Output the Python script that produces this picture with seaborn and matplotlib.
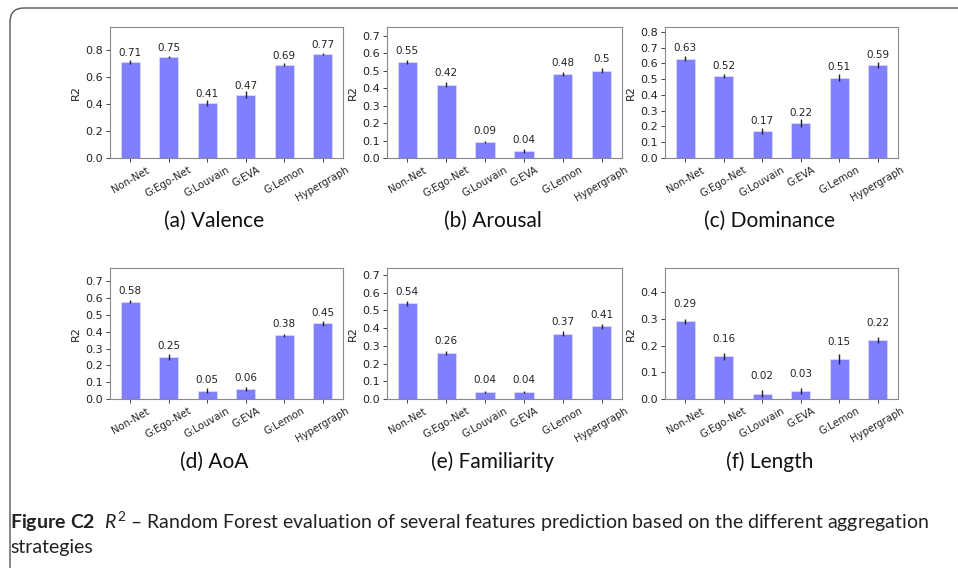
import numpy as np
import pandas as pd
import matplotlib
matplotlib.use("Agg")
import matplotlib.pyplot as plt
import seaborn as sns
from matplotlib.patches import FancyBboxPatch
from matplotlib.transforms import IdentityTransform
from matplotlib.ticker import MultipleLocator

methods = ["Non-Net", "G:Ego-Net", "G:Louvain", "G:EVA", "G:Lemon", "Hypergraph"]

valence = [0.71, 0.75, 0.41, 0.47, 0.69, 0.77]
valence_err = [0.012, 0.008, 0.022, 0.028, 0.01, 0.01]
arousal = [0.55, 0.42, 0.09, 0.04, 0.48, 0.5]
arousal_err = [0.01, 0.013, 0.005, 0.012, 0.012, 0.015]
dominance = [0.63, 0.52, 0.17, 0.22, 0.51, 0.59]
dominance_err = [0.015, 0.015, 0.02, 0.025, 0.02, 0.018]
aoa = [0.58, 0.25, 0.05, 0.06, 0.38, 0.45]
aoa_err = [0.01, 0.015, 0.015, 0.01, 0.01, 0.015]
familiarity = [0.54, 0.26, 0.04, 0.04, 0.37, 0.41]
familiarity_err = [0.015, 0.01, 0.008, 0.006, 0.015, 0.015]
length = [0.29, 0.16, 0.02, 0.03, 0.15, 0.22]
length_err = [0.01, 0.013, 0.013, 0.01, 0.02, 0.012]

panel_titles = ["(a) Valence", "(b) Arousal", "(c) Dominance",
                "(d) AoA", "(e) Familiarity", "(f) Length"]
panel_values = [valence, arousal, dominance, aoa, familiarity, length]
panel_errors = [valence_err, arousal_err, dominance_err, aoa_err, familiarity_err, length_err]
ytick_steps = [0.2, 0.1, 0.1, 0.1, 0.1, 0.1]

caption_line1 = r"$\mathbf{Figure\ C2}$  $\mathit{R}^{2}$ – Random Forest evaluation of several features prediction based on the different aggregation"
caption_line2 = "strategies"

sns.set_theme(style="white")
plt.rcParams["font.family"] = ["DejaVu Sans"]
plt.rcParams["mathtext.fontset"] = "custom"
plt.rcParams["mathtext.rm"] = "Lato"
plt.rcParams["mathtext.it"] = "Lato:italic"
plt.rcParams["mathtext.bf"] = "Lato:bold"

W, H = 958, 568
fig = plt.figure(figsize=(W / 100, H / 100), dpi=100)
fig.patch.set_facecolor("white")

# outer rounded frame
frame = FancyBboxPatch((10, -200), 1200, H - 8 + 200,
                       boxstyle="round,pad=0,rounding_size=14",
                       transform=IdentityTransform(), facecolor="none",
                       edgecolor="#555555", linewidth=1.0, clip_on=False)
fig.add_artist(frame)

lefts = [110, 387, 665]
widths = [233, 235, 233]
tops = [27, 268]
ax_h = 131

bar_color = "#7f7fff"

for i in range(6):
    r, c = divmod(i, 3)
    l = lefts[c]
    w = widths[c]
    t = tops[r]
    ax = fig.add_axes([l / W, 1 - (t + ax_h) / H, w / W, ax_h / H])
    vals = panel_values[i]
    errs = panel_errors[i]
    df = pd.DataFrame({"method": methods, "R2": vals})
    sns.barplot(data=df, x="method", y="R2", ax=ax, color=bar_color,
                saturation=1, width=0.5, errorbar=None,
                edgecolor="#d8d8ff", linewidth=0.6)
    xs = np.arange(len(methods))
    ax.errorbar(xs, vals, yerr=errs, fmt="none", ecolor="#222222",
                elinewidth=1.0, capsize=0)
    for x, v in zip(xs, vals):
        ax.text(x, v + 0.065, f"{v:g}", ha="center", va="center",
                fontsize=7.5, color="#222222")
    ax.set_xlim(-0.525, len(methods) - 1 + 0.525)
    ax.set_ylim(0, max(vals) + 0.2)
    ax.yaxis.set_major_locator(MultipleLocator(ytick_steps[i]))
    ax.set_xlabel("")
    ax.set_ylabel("R2", fontsize=8, color="#222222", labelpad=3)
    ax.tick_params(axis="x", labelsize=7.3, rotation=30, length=3, width=0.6,
                   colors="#222222", bottom=True, pad=2)
    ax.tick_params(axis="y", labelsize=8, length=3, width=0.6,
                   colors="#222222", left=True, pad=2)
    for s in ax.spines.values():
        s.set_color("#8a8a8a")
        s.set_linewidth(0.8)
    cx = (l + w / 2 - 12) / W
    fig.text(cx, 1 - (t + ax_h + 63) / H, panel_titles[i], ha="center",
             va="center", fontsize=15, family="Lato", color="#111111")

fig.text(10 / W, 1 - 522 / H, caption_line1, ha="left", va="center",
         fontsize=14, family="Lato", color="#222222")
fig.text(10 / W, 1 - 547 / H, caption_line2, ha="left", va="center",
         fontsize=14, family="Lato", color="#222222")

fig.savefig("out.png", dpi=100)
